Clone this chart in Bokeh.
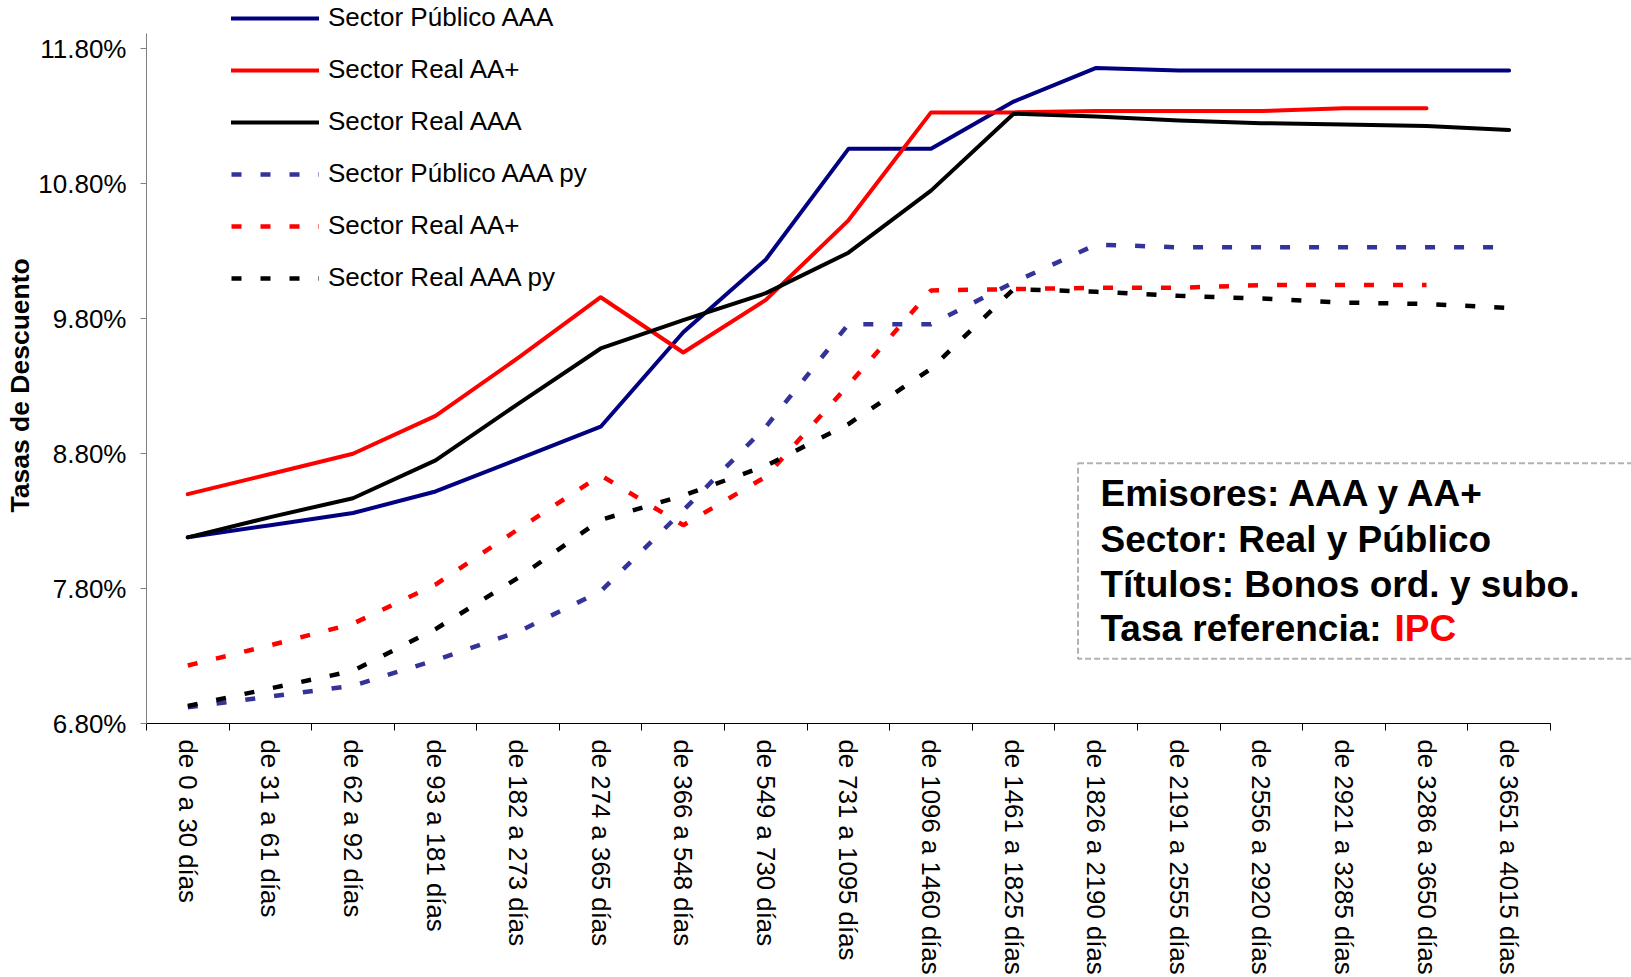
from bokeh.plotting import figure
from bokeh.models import (Range1d, FixedTicker, PrintfTickFormatter, Legend, LegendItem,
                          BoxAnnotation, Label, Title)
from bokeh.embed import file_html
from bokeh.resources import INLINE

# ---------------- data ----------------
categories = ["de 0 a 30 días", "de 31 a 61 días", "de 62 a 92 días", "de 93 a 181 días",
              "de 182 a 273 días", "de 274 a 365 días", "de 366 a 548 días", "de 549 a 730 días",
              "de 731 a 1095 días", "de 1096 a 1460 días", "de 1461 a 1825 días",
              "de 1826 a 2190 días", "de 2191 a 2555 días", "de 2556 a 2920 días",
              "de 2921 a 3285 días", "de 3286 a 3650 días", "de 3651 a 4015 días"]

pub_aaa = [8.18, 8.27, 8.36, 8.52, 8.76, 9.00, 9.70, 10.24, 11.06, 11.06, 11.41, 11.66,
           11.64, 11.64, 11.64, 11.64, 11.64]
real_aa = [8.50, 8.65, 8.80, 9.08, 9.51, 9.96, 9.55, 9.94, 10.53, 11.33, 11.33, 11.34,
           11.34, 11.34, 11.36, 11.36]
real_aaa = [8.18, 8.33, 8.47, 8.75, 9.17, 9.58, 9.79, 9.99, 10.29, 10.75, 11.32, 11.30,
            11.27, 11.25, 11.24, 11.23, 11.20]
pub_aaa_py = [6.92, 7.00, 7.08, 7.27, 7.48, 7.78, 8.38, 9.00, 9.76, 9.76, 10.07, 10.35,
              10.33, 10.33, 10.33, 10.33, 10.33]
real_aa_py = [7.23, 7.38, 7.54, 7.83, 8.24, 8.64, 8.27, 8.63, 9.31, 10.01, 10.02, 10.03,
              10.03, 10.05, 10.05, 10.05]
real_aaa_py = [6.93, 7.06, 7.19, 7.50, 7.88, 8.31, 8.49, 8.71, 9.02, 9.43, 10.02, 10.00,
               9.97, 9.95, 9.92, 9.91, 9.88]

y_ticks = [6.8, 7.8, 8.8, 9.8, 10.8, 11.8]
y_axis_title = "Tasas de Descuento"

series = [
    ("Sector Público AAA", pub_aaa, "#000080", "solid"),
    ("Sector Real AA+", real_aa, "#FF0000", "solid"),
    ("Sector Real AAA", real_aaa, "#000000", "solid"),
    ("Sector Público AAA py", pub_aaa_py, "#333399", "dot"),
    ("Sector Real AA+", real_aa_py, "#FF0000", "dot"),
    ("Sector Real AAA py", real_aaa_py, "#000000", "dot"),
]

box_lines = ["Emisores: AAA y AA+", "Sector: Real y Público",
             "Títulos: Bonos ord. y subo.", "Tasa referencia: "]
box_highlight = "IPC"

FONT = "Liberation Sans"
n = len(categories)
xs = list(range(n))

# frame spans the whole top of the canvas so the legend is not clipped;
# the y axis line itself is bounded to the 6.8 - 11.915 band
p = figure(width=1631, height=977, output_backend="svg", toolbar_location=None, title=None,
           x_range=Range1d(-0.5, 17.482), y_range=Range1d(6.8, 12.1595),
           min_border_left=146, min_border_right=0, min_border_top=0, min_border_bottom=254)
p.outline_line_color = None
p.xgrid.visible = False
p.ygrid.visible = False
p.background_fill_color = "white"
p.border_fill_color = "white"

# x axis: labels at category centres, tick marks at category boundaries
xax = p.xaxis[0]
xax.bounds = (-0.5, n - 0.5)
xax.ticker = FixedTicker(ticks=xs, minor_ticks=[i - 0.5 for i in range(n + 1)])
xax.major_label_overrides = {i: c for i, c in enumerate(categories)}
xax.major_label_orientation = "vertical"
xax.major_tick_out = 0
xax.major_tick_in = 0
xax.minor_tick_out = 7
xax.minor_tick_in = 0
xax.minor_tick_line_color = "black"
xax.axis_line_color = "black"
xax.major_label_standoff = 9
xax.major_label_text_font = FONT
xax.major_label_text_font_size = "25.8px"
xax.major_label_text_color = "black"

yax = p.yaxis[0]
yax.bounds = (6.8, 11.915)
yax.ticker = FixedTicker(ticks=y_ticks)
yax.formatter = PrintfTickFormatter(format="%.2f%%")
yax.major_tick_out = 6
yax.major_tick_in = 0
yax.minor_tick_line_color = None
yax.axis_line_color = "#808080"
yax.major_tick_line_color = "#808080"
yax.major_label_standoff = 14
yax.major_label_text_font = FONT
yax.major_label_text_font_size = "26px"
yax.major_label_text_color = "black"

ytitle = Title(text=y_axis_title, align="left", offset=211, vertical_align="bottom",
               text_font=FONT, text_font_size="26.5px", text_font_style="bold",
               text_color="black", standoff=1)
p.add_layout(ytitle, "left")

items = []
for label, vals, color, style in series:
    if style == "solid":
        r = p.line(xs[:len(vals)], vals, line_color=color, line_width=4,
                   line_join="round", line_cap="round")
    else:
        r = p.line(xs[:len(vals)], vals, line_color=color, line_width=4.5, line_dash="10 19")
    items.append(LegendItem(label=label, renderers=[r]))

legend = Legend(items=items, location=(85, 430), glyph_width=88, glyph_height=30,
                label_height=30, spacing=21, padding=0, margin=0, label_standoff=9,
                label_text_font=FONT, label_text_font_size="26px", label_text_color="black",
                border_line_color=None, background_fill_alpha=0)
p.add_layout(legend)

# annotation box
box = BoxAnnotation(left=10.78, right=30, top=8.73, bottom=7.28,
                    fill_color="white", fill_alpha=1.0, line_color="black",
                    line_width=2, line_dash="6 3")
p.add_layout(box)

box_y = [8.505, 8.164, 7.834, 7.504]
for t, yy in zip(box_lines, box_y):
    p.add_layout(Label(x=11.052, y=yy, text=t, text_font=FONT, text_font_size="37px",
                       text_font_style="bold", text_color="black",
                       text_baseline="middle", text_align="left"))
p.add_layout(Label(x=11.052, x_offset=294, y=box_y[3], text=box_highlight, text_font=FONT,
                   text_font_size="37px", text_font_style="bold", text_color="#FF0000",
                   text_baseline="middle", text_align="left"))

open("out.html", "w").write(file_html(p, INLINE))
